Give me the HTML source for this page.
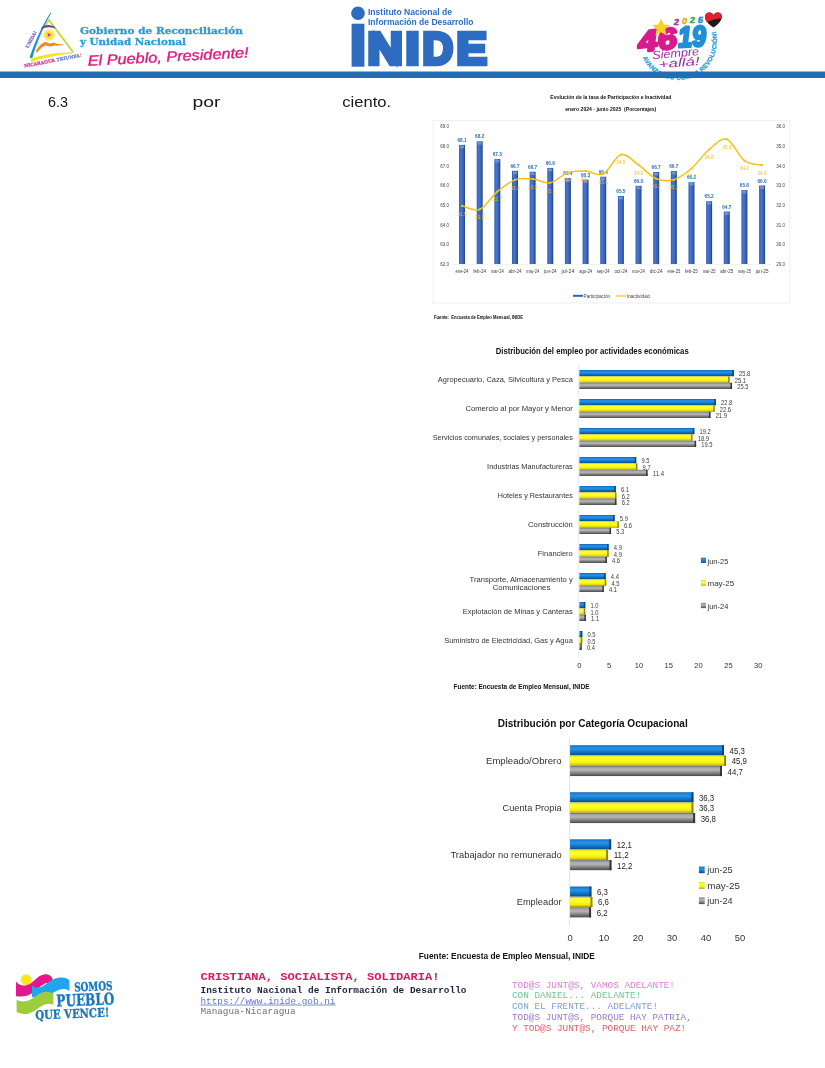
<!DOCTYPE html>
<html lang="es"><head><meta charset="utf-8"><title>INIDE - Encuesta de Empleo Mensual</title>
<style>
html,body{margin:0;padding:0;background:#fff;}
body{width:825px;height:1068px;overflow:hidden;position:relative;font-family:"Liberation Sans",sans-serif;}
svg{position:absolute;left:0;top:0;display:block;opacity:0.999;will-change:opacity;}
text{white-space:pre;}
</style></head><body>
<svg width="825" height="1068" viewBox="0 0 825 1068">
<defs>
<linearGradient id="gBlueV" x1="0" y1="0" x2="1" y2="0"><stop offset="0" stop-color="#3560b4"/><stop offset="0.35" stop-color="#4876ca"/><stop offset="0.7" stop-color="#3762b4"/><stop offset="1" stop-color="#1f3f8c"/></linearGradient>
<linearGradient id="gBlueH" x1="0" y1="0" x2="0" y2="1"><stop offset="0" stop-color="#0e5a9e"/><stop offset="0.14" stop-color="#1d84d6"/><stop offset="0.38" stop-color="#2394ea"/><stop offset="0.62" stop-color="#1478cc"/><stop offset="0.86" stop-color="#0c5ea8"/><stop offset="1" stop-color="#094680"/></linearGradient>
<linearGradient id="gYelH" x1="0" y1="0" x2="0" y2="1"><stop offset="0" stop-color="#c9c410"/><stop offset="0.14" stop-color="#fffb30"/><stop offset="0.45" stop-color="#ffff1c"/><stop offset="0.75" stop-color="#f2ea10"/><stop offset="0.9" stop-color="#d0c80c"/><stop offset="1" stop-color="#8c8608"/></linearGradient>
<linearGradient id="gGryH" x1="0" y1="0" x2="0" y2="1"><stop offset="0" stop-color="#686868"/><stop offset="0.16" stop-color="#a4a4a4"/><stop offset="0.4" stop-color="#b6b6b6"/><stop offset="0.66" stop-color="#888"/><stop offset="0.88" stop-color="#626262"/><stop offset="1" stop-color="#444"/></linearGradient>
</defs>
<g id="header">
<g id="logo-gob">
<path d="M50.6,12.6 C45,21 36,38 29.6,57.6 L32.2,58.4 C37.5,40 45.5,23 51.2,13 Z" fill="#1d8fd4"/>
<path d="M49,20 L72.8,51.8" stroke="#c3d733" stroke-width="1.8" fill="none" stroke-linecap="round"/>
<path d="M49,20 L44,27" stroke="#c3d733" stroke-width="1.3" fill="none" stroke-linecap="round"/>
<path d="M30.6,58.6 C42,54.5 58,52.6 72.6,52.2 L72.8,53.6 C58,55 43,58 31.4,62 Z" fill="#f6e12a"/>
<path d="M41.6,27.4 C45,24.6 50,24.4 54.4,26.6 L55.4,28.6 C50,26.6 45.6,27 40.8,29.4 Z" fill="#6b3c9c"/>
<circle cx="49" cy="35" r="6" fill="#fbee72" opacity="0.9"/>
<circle cx="49" cy="35" r="4" fill="#f8e036"/>
<path d="M47.4,33 L51.2,34.8 L47.6,37 Q48.6,35 47.4,33 Z" fill="#dd2a8c"/>
<path d="M35.6,51.8 C38,47 41,43.4 44.6,42.2 C47,41.6 48.2,44 50.4,43.6 C52.6,43 53.4,42.4 55.6,43.4 C58,44.4 61,44 64.8,44.6 C61,45.8 58,46 55.4,45.6 C53.4,45.2 52.4,46.4 50.2,46.6 C48,46.6 47,45 45,45.6 C42,46.8 39.6,50 36.8,52.6 Z" fill="#f0871f"/>
</g>
<text x="28.20" y="48.40" font-size="4.4" fill="#7a5fb8" text-anchor="start" font-weight="bold" font-family='"DejaVu Serif", "Liberation Serif", serif' stroke="#7a5fb8" stroke-width="0.2" transform="rotate(-62 28.2 48.4)" textLength="18.5" lengthAdjust="spacingAndGlyphs">UNIDA!</text>
<text x="24.4" y="67.6" font-size="4.5" font-weight="bold" font-family='"DejaVu Serif", "Liberation Serif", serif' transform="rotate(-10.8 24.4 67.6)" textLength="58.5" lengthAdjust="spacingAndGlyphs"><tspan fill="#d4368e" stroke="#d4368e" stroke-width="0.25">NICARAGUA </tspan><tspan fill="#6a7fc8" stroke="#6a7fc8" stroke-width="0.25">TRIUNFA</tspan><tspan fill="#d4368e">!</tspan></text>
<text x="80.00" y="34.20" font-size="9.7" fill="#2a9bd6" text-anchor="start" font-weight="bold" font-family='"DejaVu Serif", "Liberation Serif", serif' textLength="163" lengthAdjust="spacingAndGlyphs" stroke="#2a9bd6" stroke-width="0.3">Gobierno de Reconciliación</text>
<text x="80.00" y="44.60" font-size="9.7" fill="#2a9bd6" text-anchor="start" font-weight="bold" font-family='"DejaVu Serif", "Liberation Serif", serif' textLength="106" lengthAdjust="spacingAndGlyphs" stroke="#2a9bd6" stroke-width="0.3">y Unidad Nacional</text>
<text x="88.00" y="65.80" font-size="14.4" fill="#e3177d" text-anchor="start" font-weight="normal" font-family='"Liberation Sans", sans-serif' font-style="italic" textLength="161" lengthAdjust="spacingAndGlyphs" transform="rotate(-3 88 65.8)" stroke="#e3177d" stroke-width="0.35">El Pueblo, Presidente!</text>
<g id="logo-inide" fill="#2d6cc0">
<circle cx="358" cy="13.3" r="6.8"/>
<rect x="351.6" y="23.7" width="12.8" height="43"/>
</g>
<text x="368.00" y="15.40" font-size="8.8" fill="#2d6cc0" text-anchor="start" font-weight="bold" font-family='"Liberation Sans", sans-serif' textLength="84" lengthAdjust="spacingAndGlyphs">Instituto Nacional de</text>
<text x="368.00" y="24.90" font-size="8.8" fill="#2d6cc0" text-anchor="start" font-weight="bold" font-family='"Liberation Sans", sans-serif' textLength="105.5" lengthAdjust="spacingAndGlyphs">Información de Desarrollo</text>
<text x="367.40" y="64.00" font-size="45" fill="#2d6cc0" text-anchor="start" font-weight="bold" font-family='"Liberation Sans", sans-serif' textLength="35.3" lengthAdjust="spacingAndGlyphs" stroke="#2d6cc0" stroke-width="4.6" stroke-linejoin="miter" stroke-miterlimit="8">N</text>
<text x="405.40" y="64.00" font-size="45" fill="#2d6cc0" text-anchor="start" font-weight="bold" font-family='"Liberation Sans", sans-serif' textLength="14.0" lengthAdjust="spacingAndGlyphs" stroke="#2d6cc0" stroke-width="4.6" stroke-linejoin="miter" stroke-miterlimit="8">I</text>
<text x="422.50" y="64.00" font-size="45" fill="#2d6cc0" text-anchor="start" font-weight="bold" font-family='"Liberation Sans", sans-serif' textLength="30.6" lengthAdjust="spacingAndGlyphs" stroke="#2d6cc0" stroke-width="4.6" stroke-linejoin="miter" stroke-miterlimit="8">D</text>
<text x="456.60" y="64.00" font-size="45" fill="#2d6cc0" text-anchor="start" font-weight="bold" font-family='"Liberation Sans", sans-serif' textLength="30.4" lengthAdjust="spacingAndGlyphs" stroke="#2d6cc0" stroke-width="4.6" stroke-linejoin="miter" stroke-miterlimit="8">E</text>
<g id="logo-4619">
<path id="arc4619" d="M642.7,57.5 A39,39 0 0 0 715.7,30.9" fill="none"/>
<text font-size="6.1" font-weight="bold" fill="#2a9fd8" stroke="#2a9fd8" stroke-width="0.3" font-family='"Liberation Sans", sans-serif' textLength="115" lengthAdjust="spacing"><textPath href="#arc4619" startOffset="0">AVANZANDO CON LA REVOLUCIÓN!</textPath></text>
<text x="639.30" y="52.00" font-size="29.5" fill="#d81b8c" text-anchor="start" font-weight="bold" font-family='"Liberation Sans", sans-serif' font-style="italic" textLength="38.5" lengthAdjust="spacingAndGlyphs" stroke="#d81b8c" stroke-width="2.6" stroke-linejoin="round" transform="rotate(-6 639.3 52.0)">46</text>
<text x="678.60" y="47.20" font-size="29" fill="#1f8fd6" text-anchor="start" font-weight="bold" font-family='"Liberation Sans", sans-serif' font-style="italic" textLength="28" lengthAdjust="spacingAndGlyphs" stroke="#1f8fd6" stroke-width="2.6" stroke-linejoin="round" transform="rotate(-3 678.6 47.2)">19</text>
<polygon points="661,18.5 663.6,24.4 670,25 665.2,29.3 666.6,35.6 661,32.3 655.4,35.6 656.8,29.3 652,25 658.4,24.4" fill="#f8d21f"/>
<text x="674.00" y="24.60" font-size="9" fill="#a040a8" text-anchor="start" font-weight="bold" font-family='"Liberation Sans", sans-serif' font-style="italic" stroke="#a040a8" stroke-width="0.6">2</text>
<text x="682.00" y="24.00" font-size="9" fill="#e9a820" text-anchor="start" font-weight="bold" font-family='"Liberation Sans", sans-serif' font-style="italic" stroke="#e9a820" stroke-width="0.6">0</text>
<text x="690.00" y="23.40" font-size="9" fill="#3fb060" text-anchor="start" font-weight="bold" font-family='"Liberation Sans", sans-serif' font-style="italic" stroke="#3fb060" stroke-width="0.6">2</text>
<text x="698.00" y="22.80" font-size="9" fill="#1f90d0" text-anchor="start" font-weight="bold" font-family='"Liberation Sans", sans-serif' font-style="italic" stroke="#1f90d0" stroke-width="0.6">5</text>
<path d="M713.5,27.6 C704,21.5 703.2,14.6 707.8,12.8 C710.4,11.9 712.8,13.2 713.5,15.4 C714.2,13.2 716.6,11.9 719.2,12.8 C723.8,14.6 723,21.5 713.5,27.6 Z" fill="#1c1c1c"/>
<path d="M705.3,19.5 C704.3,15.8 705.6,13.5 707.8,12.8 C710.4,11.9 712.8,13.2 713.5,15.4 C714.2,13.2 716.6,11.9 719.2,12.8 C721.4,13.5 722.6,15.6 721.9,18.6 C716,18.6 710,21 706.6,22 Z" fill="#e3202b"/>
<text x="652.50" y="59.20" font-size="11.5" fill="#9b2fa0" text-anchor="start" font-weight="normal" font-family='"Liberation Sans", sans-serif' font-style="italic" textLength="47" lengthAdjust="spacingAndGlyphs" transform="rotate(-5 652.5 59.2)">Siempre</text>
<text x="659.00" y="68.40" font-size="11.5" fill="#9b2fa0" text-anchor="start" font-weight="normal" font-family='"Liberation Sans", sans-serif' font-style="italic" textLength="41" lengthAdjust="spacingAndGlyphs" transform="rotate(-5 659 68.4)">+allá!</text>
</g>
<rect x="0" y="71.5" width="825" height="6.5" fill="#1f6db6"/>
<text x="48.00" y="106.90" font-size="14.9" fill="#1a1a1a" text-anchor="start" font-weight="normal" font-family='"Liberation Sans", sans-serif' textLength="20" lengthAdjust="spacingAndGlyphs">6.3</text>
<text x="192.40" y="106.90" font-size="14.9" fill="#1a1a1a" text-anchor="start" font-weight="normal" font-family='"Liberation Sans", sans-serif' textLength="28" lengthAdjust="spacingAndGlyphs">por</text>
<text x="342.20" y="106.90" font-size="14.9" fill="#1a1a1a" text-anchor="start" font-weight="normal" font-family='"Liberation Sans", sans-serif' textLength="48.9" lengthAdjust="spacingAndGlyphs">ciento.</text>
</g>
<g id="chart1">
<text x="610.80" y="99.00" font-size="5" fill="#111" text-anchor="middle" font-weight="bold" font-family='"Liberation Sans", sans-serif' textLength="121" lengthAdjust="spacingAndGlyphs">Evolución de la tasa de Participación e Inactividad</text>
<text x="610.80" y="110.60" font-size="5" fill="#111" text-anchor="middle" font-weight="bold" font-family='"Liberation Sans", sans-serif' textLength="91" lengthAdjust="spacingAndGlyphs">enero 2024 - junio 2025  (Porcentajes)</text>
<rect x="433" y="120.7" width="356.8" height="182.3" fill="#fff" stroke="#eaeaea" stroke-width="0.8"/>
<line x1="453" y1="264.3" x2="771.3" y2="264.3" stroke="#e2e2e2" stroke-width="0.6"/>
<text x="440.20" y="266.10" font-size="4.8" fill="#444" text-anchor="start" font-weight="normal" font-family='"Liberation Sans", sans-serif' textLength="8.8" lengthAdjust="spacingAndGlyphs">62.0</text>
<text x="776.20" y="266.10" font-size="4.8" fill="#444" text-anchor="start" font-weight="normal" font-family='"Liberation Sans", sans-serif' textLength="8.8" lengthAdjust="spacingAndGlyphs">29.0</text>
<text x="440.20" y="246.40" font-size="4.8" fill="#444" text-anchor="start" font-weight="normal" font-family='"Liberation Sans", sans-serif' textLength="8.8" lengthAdjust="spacingAndGlyphs">63.0</text>
<text x="776.20" y="246.40" font-size="4.8" fill="#444" text-anchor="start" font-weight="normal" font-family='"Liberation Sans", sans-serif' textLength="8.8" lengthAdjust="spacingAndGlyphs">30.0</text>
<text x="440.20" y="226.70" font-size="4.8" fill="#444" text-anchor="start" font-weight="normal" font-family='"Liberation Sans", sans-serif' textLength="8.8" lengthAdjust="spacingAndGlyphs">64.0</text>
<text x="776.20" y="226.70" font-size="4.8" fill="#444" text-anchor="start" font-weight="normal" font-family='"Liberation Sans", sans-serif' textLength="8.8" lengthAdjust="spacingAndGlyphs">31.0</text>
<text x="440.20" y="207.00" font-size="4.8" fill="#444" text-anchor="start" font-weight="normal" font-family='"Liberation Sans", sans-serif' textLength="8.8" lengthAdjust="spacingAndGlyphs">65.0</text>
<text x="776.20" y="207.00" font-size="4.8" fill="#444" text-anchor="start" font-weight="normal" font-family='"Liberation Sans", sans-serif' textLength="8.8" lengthAdjust="spacingAndGlyphs">32.0</text>
<text x="440.20" y="187.30" font-size="4.8" fill="#444" text-anchor="start" font-weight="normal" font-family='"Liberation Sans", sans-serif' textLength="8.8" lengthAdjust="spacingAndGlyphs">66.0</text>
<text x="776.20" y="187.30" font-size="4.8" fill="#444" text-anchor="start" font-weight="normal" font-family='"Liberation Sans", sans-serif' textLength="8.8" lengthAdjust="spacingAndGlyphs">33.0</text>
<text x="440.20" y="167.60" font-size="4.8" fill="#444" text-anchor="start" font-weight="normal" font-family='"Liberation Sans", sans-serif' textLength="8.8" lengthAdjust="spacingAndGlyphs">67.0</text>
<text x="776.20" y="167.60" font-size="4.8" fill="#444" text-anchor="start" font-weight="normal" font-family='"Liberation Sans", sans-serif' textLength="8.8" lengthAdjust="spacingAndGlyphs">34.0</text>
<text x="440.20" y="147.90" font-size="4.8" fill="#444" text-anchor="start" font-weight="normal" font-family='"Liberation Sans", sans-serif' textLength="8.8" lengthAdjust="spacingAndGlyphs">68.0</text>
<text x="776.20" y="147.90" font-size="4.8" fill="#444" text-anchor="start" font-weight="normal" font-family='"Liberation Sans", sans-serif' textLength="8.8" lengthAdjust="spacingAndGlyphs">35.0</text>
<text x="440.20" y="128.20" font-size="4.8" fill="#444" text-anchor="start" font-weight="normal" font-family='"Liberation Sans", sans-serif' textLength="8.8" lengthAdjust="spacingAndGlyphs">69.0</text>
<text x="776.20" y="128.20" font-size="4.8" fill="#444" text-anchor="start" font-weight="normal" font-family='"Liberation Sans", sans-serif' textLength="8.8" lengthAdjust="spacingAndGlyphs">36.0</text>
<rect x="459.02" y="144.90" width="6.0" height="119.10" fill="url(#gBlueV)"/>
<rect x="459.92" y="145.70" width="4.2" height="2.6" fill="#7d9fe0" opacity="0.75"/>
<text x="462.02" y="141.90" font-size="4.7" fill="#256ec0" text-anchor="middle" font-weight="bold" font-family='"Liberation Sans", sans-serif' >68.1</text>
<text x="462.02" y="215.50" font-size="4.7" fill="#f0bc28" text-anchor="middle" font-weight="normal" font-family='"Liberation Sans", sans-serif' >31.9</text>
<text x="462.02" y="272.60" font-size="4.7" fill="#3a3a3a" text-anchor="middle" font-weight="normal" font-family='"Liberation Sans", sans-serif' textLength="12.8" lengthAdjust="spacingAndGlyphs">ene-24</text>
<rect x="476.68" y="141.30" width="6.0" height="122.70" fill="url(#gBlueV)"/>
<rect x="477.57" y="142.10" width="4.2" height="2.6" fill="#7d9fe0" opacity="0.75"/>
<text x="479.68" y="138.30" font-size="4.7" fill="#256ec0" text-anchor="middle" font-weight="bold" font-family='"Liberation Sans", sans-serif' >68.2</text>
<text x="479.68" y="219.10" font-size="4.7" fill="#f0bc28" text-anchor="middle" font-weight="normal" font-family='"Liberation Sans", sans-serif' >31.8</text>
<text x="479.68" y="272.60" font-size="4.7" fill="#3a3a3a" text-anchor="middle" font-weight="normal" font-family='"Liberation Sans", sans-serif' textLength="12.8" lengthAdjust="spacingAndGlyphs">feb-24</text>
<rect x="494.32" y="159.10" width="6.0" height="104.90" fill="url(#gBlueV)"/>
<rect x="495.22" y="159.90" width="4.2" height="2.6" fill="#7d9fe0" opacity="0.75"/>
<text x="497.32" y="156.10" font-size="4.7" fill="#256ec0" text-anchor="middle" font-weight="bold" font-family='"Liberation Sans", sans-serif' >67.3</text>
<text x="497.32" y="201.30" font-size="4.7" fill="#f0bc28" text-anchor="middle" font-weight="normal" font-family='"Liberation Sans", sans-serif' >32.7</text>
<text x="497.32" y="272.60" font-size="4.7" fill="#3a3a3a" text-anchor="middle" font-weight="normal" font-family='"Liberation Sans", sans-serif' textLength="12.8" lengthAdjust="spacingAndGlyphs">mar-24</text>
<rect x="511.98" y="170.80" width="6.0" height="93.20" fill="url(#gBlueV)"/>
<rect x="512.88" y="171.60" width="4.2" height="2.6" fill="#7d9fe0" opacity="0.75"/>
<text x="514.98" y="167.80" font-size="4.7" fill="#256ec0" text-anchor="middle" font-weight="bold" font-family='"Liberation Sans", sans-serif' >66.7</text>
<text x="514.98" y="189.60" font-size="4.7" fill="#f0bc28" text-anchor="middle" font-weight="normal" font-family='"Liberation Sans", sans-serif' >33.3</text>
<text x="514.98" y="272.60" font-size="4.7" fill="#3a3a3a" text-anchor="middle" font-weight="normal" font-family='"Liberation Sans", sans-serif' textLength="12.8" lengthAdjust="spacingAndGlyphs">abr-24</text>
<rect x="529.62" y="171.70" width="6.0" height="92.30" fill="url(#gBlueV)"/>
<rect x="530.52" y="172.50" width="4.2" height="2.6" fill="#7d9fe0" opacity="0.75"/>
<text x="532.62" y="168.70" font-size="4.7" fill="#256ec0" text-anchor="middle" font-weight="bold" font-family='"Liberation Sans", sans-serif' >66.7</text>
<text x="532.62" y="188.70" font-size="4.7" fill="#f0bc28" text-anchor="middle" font-weight="normal" font-family='"Liberation Sans", sans-serif' >33.3</text>
<text x="532.62" y="272.60" font-size="4.7" fill="#3a3a3a" text-anchor="middle" font-weight="normal" font-family='"Liberation Sans", sans-serif' textLength="12.8" lengthAdjust="spacingAndGlyphs">may-24</text>
<rect x="547.27" y="167.90" width="6.0" height="96.10" fill="url(#gBlueV)"/>
<rect x="548.17" y="168.70" width="4.2" height="2.6" fill="#7d9fe0" opacity="0.75"/>
<text x="550.27" y="164.90" font-size="4.7" fill="#256ec0" text-anchor="middle" font-weight="bold" font-family='"Liberation Sans", sans-serif' >66.9</text>
<text x="550.27" y="192.50" font-size="4.7" fill="#f0bc28" text-anchor="middle" font-weight="normal" font-family='"Liberation Sans", sans-serif' >33.1</text>
<text x="550.27" y="272.60" font-size="4.7" fill="#3a3a3a" text-anchor="middle" font-weight="normal" font-family='"Liberation Sans", sans-serif' textLength="12.8" lengthAdjust="spacingAndGlyphs">jun-24</text>
<rect x="564.92" y="178.10" width="6.0" height="85.90" fill="url(#gBlueV)"/>
<rect x="565.82" y="178.90" width="4.2" height="2.6" fill="#7d9fe0" opacity="0.75"/>
<text x="567.92" y="175.10" font-size="4.7" fill="#256ec0" text-anchor="middle" font-weight="bold" font-family='"Liberation Sans", sans-serif' >66.4</text>
<text x="567.92" y="182.30" font-size="4.7" fill="#f0bc28" text-anchor="middle" font-weight="normal" font-family='"Liberation Sans", sans-serif' >33.6</text>
<text x="567.92" y="272.60" font-size="4.7" fill="#3a3a3a" text-anchor="middle" font-weight="normal" font-family='"Liberation Sans", sans-serif' textLength="12.8" lengthAdjust="spacingAndGlyphs">jul-24</text>
<rect x="582.58" y="179.60" width="6.0" height="84.40" fill="url(#gBlueV)"/>
<rect x="583.48" y="180.40" width="4.2" height="2.6" fill="#7d9fe0" opacity="0.75"/>
<text x="585.58" y="176.60" font-size="4.7" fill="#256ec0" text-anchor="middle" font-weight="bold" font-family='"Liberation Sans", sans-serif' >66.3</text>
<text x="585.58" y="180.80" font-size="4.7" fill="#f0bc28" text-anchor="middle" font-weight="normal" font-family='"Liberation Sans", sans-serif' >33.7</text>
<text x="585.58" y="272.60" font-size="4.7" fill="#3a3a3a" text-anchor="middle" font-weight="normal" font-family='"Liberation Sans", sans-serif' textLength="12.8" lengthAdjust="spacingAndGlyphs">ago-24</text>
<rect x="600.22" y="176.70" width="6.0" height="87.30" fill="url(#gBlueV)"/>
<rect x="601.12" y="177.50" width="4.2" height="2.6" fill="#7d9fe0" opacity="0.75"/>
<text x="603.22" y="173.70" font-size="4.7" fill="#256ec0" text-anchor="middle" font-weight="bold" font-family='"Liberation Sans", sans-serif' >66.4</text>
<text x="603.22" y="183.70" font-size="4.7" fill="#f0bc28" text-anchor="middle" font-weight="normal" font-family='"Liberation Sans", sans-serif' >33.6</text>
<text x="603.22" y="272.60" font-size="4.7" fill="#3a3a3a" text-anchor="middle" font-weight="normal" font-family='"Liberation Sans", sans-serif' textLength="12.8" lengthAdjust="spacingAndGlyphs">sep-24</text>
<rect x="617.88" y="196.00" width="6.0" height="68.00" fill="url(#gBlueV)"/>
<rect x="618.77" y="196.80" width="4.2" height="2.6" fill="#7d9fe0" opacity="0.75"/>
<text x="620.88" y="193.00" font-size="4.7" fill="#256ec0" text-anchor="middle" font-weight="bold" font-family='"Liberation Sans", sans-serif' >65.5</text>
<text x="620.88" y="164.40" font-size="4.7" fill="#f0bc28" text-anchor="middle" font-weight="normal" font-family='"Liberation Sans", sans-serif' >34.5</text>
<text x="620.88" y="272.60" font-size="4.7" fill="#3a3a3a" text-anchor="middle" font-weight="normal" font-family='"Liberation Sans", sans-serif' textLength="12.8" lengthAdjust="spacingAndGlyphs">oct-24</text>
<rect x="635.52" y="185.80" width="6.0" height="78.20" fill="url(#gBlueV)"/>
<rect x="636.42" y="186.60" width="4.2" height="2.6" fill="#7d9fe0" opacity="0.75"/>
<text x="638.52" y="182.80" font-size="4.7" fill="#256ec0" text-anchor="middle" font-weight="bold" font-family='"Liberation Sans", sans-serif' >66.0</text>
<text x="638.52" y="174.60" font-size="4.7" fill="#f0bc28" text-anchor="middle" font-weight="normal" font-family='"Liberation Sans", sans-serif' >34.0</text>
<text x="638.52" y="272.60" font-size="4.7" fill="#3a3a3a" text-anchor="middle" font-weight="normal" font-family='"Liberation Sans", sans-serif' textLength="12.8" lengthAdjust="spacingAndGlyphs">nov-24</text>
<rect x="653.17" y="172.00" width="6.0" height="92.00" fill="url(#gBlueV)"/>
<rect x="654.07" y="172.80" width="4.2" height="2.6" fill="#7d9fe0" opacity="0.75"/>
<text x="656.17" y="169.00" font-size="4.7" fill="#256ec0" text-anchor="middle" font-weight="bold" font-family='"Liberation Sans", sans-serif' >66.7</text>
<text x="656.17" y="188.40" font-size="4.7" fill="#f0bc28" text-anchor="middle" font-weight="normal" font-family='"Liberation Sans", sans-serif' >33.3</text>
<text x="656.17" y="272.60" font-size="4.7" fill="#3a3a3a" text-anchor="middle" font-weight="normal" font-family='"Liberation Sans", sans-serif' textLength="12.8" lengthAdjust="spacingAndGlyphs">dic-24</text>
<rect x="670.82" y="171.00" width="6.0" height="93.00" fill="url(#gBlueV)"/>
<rect x="671.72" y="171.80" width="4.2" height="2.6" fill="#7d9fe0" opacity="0.75"/>
<text x="673.82" y="168.00" font-size="4.7" fill="#256ec0" text-anchor="middle" font-weight="bold" font-family='"Liberation Sans", sans-serif' >66.7</text>
<text x="673.82" y="189.40" font-size="4.7" fill="#f0bc28" text-anchor="middle" font-weight="normal" font-family='"Liberation Sans", sans-serif' >33.3</text>
<text x="673.82" y="272.60" font-size="4.7" fill="#3a3a3a" text-anchor="middle" font-weight="normal" font-family='"Liberation Sans", sans-serif' textLength="12.8" lengthAdjust="spacingAndGlyphs">ene-25</text>
<rect x="688.47" y="182.20" width="6.0" height="81.80" fill="url(#gBlueV)"/>
<rect x="689.37" y="183.00" width="4.2" height="2.6" fill="#7d9fe0" opacity="0.75"/>
<text x="691.47" y="179.20" font-size="4.7" fill="#256ec0" text-anchor="middle" font-weight="bold" font-family='"Liberation Sans", sans-serif' >66.2</text>
<text x="691.47" y="178.20" font-size="4.7" fill="#f0bc28" text-anchor="middle" font-weight="normal" font-family='"Liberation Sans", sans-serif' >33.8</text>
<text x="691.47" y="272.60" font-size="4.7" fill="#3a3a3a" text-anchor="middle" font-weight="normal" font-family='"Liberation Sans", sans-serif' textLength="12.8" lengthAdjust="spacingAndGlyphs">feb-25</text>
<rect x="706.12" y="201.20" width="6.0" height="62.80" fill="url(#gBlueV)"/>
<rect x="707.02" y="202.00" width="4.2" height="2.6" fill="#7d9fe0" opacity="0.75"/>
<text x="709.12" y="198.20" font-size="4.7" fill="#256ec0" text-anchor="middle" font-weight="bold" font-family='"Liberation Sans", sans-serif' >65.2</text>
<text x="709.12" y="159.20" font-size="4.7" fill="#f0bc28" text-anchor="middle" font-weight="normal" font-family='"Liberation Sans", sans-serif' >34.8</text>
<text x="709.12" y="272.60" font-size="4.7" fill="#3a3a3a" text-anchor="middle" font-weight="normal" font-family='"Liberation Sans", sans-serif' textLength="12.8" lengthAdjust="spacingAndGlyphs">mar-25</text>
<rect x="723.77" y="211.50" width="6.0" height="52.50" fill="url(#gBlueV)"/>
<rect x="724.67" y="212.30" width="4.2" height="2.6" fill="#7d9fe0" opacity="0.75"/>
<text x="726.77" y="208.50" font-size="4.7" fill="#256ec0" text-anchor="middle" font-weight="bold" font-family='"Liberation Sans", sans-serif' >64.7</text>
<text x="726.77" y="148.90" font-size="4.7" fill="#f0bc28" text-anchor="middle" font-weight="normal" font-family='"Liberation Sans", sans-serif' >35.3</text>
<text x="726.77" y="272.60" font-size="4.7" fill="#3a3a3a" text-anchor="middle" font-weight="normal" font-family='"Liberation Sans", sans-serif' textLength="12.8" lengthAdjust="spacingAndGlyphs">abr-25</text>
<rect x="741.42" y="190.10" width="6.0" height="73.90" fill="url(#gBlueV)"/>
<rect x="742.32" y="190.90" width="4.2" height="2.6" fill="#7d9fe0" opacity="0.75"/>
<text x="744.42" y="187.10" font-size="4.7" fill="#256ec0" text-anchor="middle" font-weight="bold" font-family='"Liberation Sans", sans-serif' >65.8</text>
<text x="744.42" y="170.30" font-size="4.7" fill="#f0bc28" text-anchor="middle" font-weight="normal" font-family='"Liberation Sans", sans-serif' >34.2</text>
<text x="744.42" y="272.60" font-size="4.7" fill="#3a3a3a" text-anchor="middle" font-weight="normal" font-family='"Liberation Sans", sans-serif' textLength="12.8" lengthAdjust="spacingAndGlyphs">may-25</text>
<rect x="759.08" y="185.50" width="6.0" height="78.50" fill="url(#gBlueV)"/>
<rect x="759.98" y="186.30" width="4.2" height="2.6" fill="#7d9fe0" opacity="0.75"/>
<text x="762.08" y="182.50" font-size="4.7" fill="#256ec0" text-anchor="middle" font-weight="bold" font-family='"Liberation Sans", sans-serif' >66.0</text>
<text x="762.08" y="174.90" font-size="4.7" fill="#f0bc28" text-anchor="middle" font-weight="normal" font-family='"Liberation Sans", sans-serif' >34.0</text>
<text x="762.08" y="272.60" font-size="4.7" fill="#3a3a3a" text-anchor="middle" font-weight="normal" font-family='"Liberation Sans", sans-serif' textLength="12.8" lengthAdjust="spacingAndGlyphs">jun-25</text>
<path d="M462.02,205.80 C464.97,206.40 473.79,211.77 479.68,209.40 C485.56,207.03 491.44,196.52 497.32,191.60 C503.21,186.68 509.09,182.00 514.98,179.90 C520.86,177.80 526.74,178.52 532.62,179.00 C538.51,179.48 544.39,183.87 550.27,182.80 C556.16,181.73 562.04,174.55 567.92,172.60 C573.81,170.65 579.69,170.87 585.58,171.10 C591.46,171.33 597.34,176.73 603.22,174.00 C609.11,171.27 614.99,156.22 620.88,154.70 C626.76,153.18 632.64,160.90 638.52,164.90 C644.41,168.90 650.29,176.23 656.17,178.70 C662.06,181.17 667.94,181.40 673.82,179.70 C679.71,178.00 685.59,173.53 691.47,168.50 C697.36,163.47 703.24,154.38 709.12,149.50 C715.01,144.62 720.89,137.35 726.77,139.20 C732.66,141.05 738.54,156.27 744.42,160.60 C750.31,164.93 759.13,164.43 762.08,165.20" fill="none" stroke="#f5c211" stroke-width="1.5" stroke-linejoin="round" stroke-linecap="round"/>
<circle cx="462.02" cy="205.80" r="1.1" fill="#f5c211"/>
<circle cx="479.68" cy="209.40" r="1.1" fill="#f5c211"/>
<circle cx="497.32" cy="191.60" r="1.1" fill="#f5c211"/>
<circle cx="514.98" cy="179.90" r="1.1" fill="#f5c211"/>
<circle cx="532.62" cy="179.00" r="1.1" fill="#f5c211"/>
<circle cx="550.27" cy="182.80" r="1.1" fill="#f5c211"/>
<circle cx="567.92" cy="172.60" r="1.1" fill="#f5c211"/>
<circle cx="585.58" cy="171.10" r="1.1" fill="#f5c211"/>
<circle cx="603.22" cy="174.00" r="1.1" fill="#f5c211"/>
<circle cx="620.88" cy="154.70" r="1.1" fill="#f5c211"/>
<circle cx="638.52" cy="164.90" r="1.1" fill="#f5c211"/>
<circle cx="656.17" cy="178.70" r="1.1" fill="#f5c211"/>
<circle cx="673.82" cy="179.70" r="1.1" fill="#f5c211"/>
<circle cx="691.47" cy="168.50" r="1.1" fill="#f5c211"/>
<circle cx="709.12" cy="149.50" r="1.1" fill="#f5c211"/>
<circle cx="726.77" cy="139.20" r="1.1" fill="#f5c211"/>
<circle cx="744.42" cy="160.60" r="1.1" fill="#f5c211"/>
<circle cx="762.08" cy="165.20" r="1.1" fill="#f5c211"/>
<rect x="573" y="294.8" width="10" height="2" fill="#3462b4"/>
<text x="583.60" y="297.60" font-size="4.6" fill="#444" text-anchor="start" font-weight="normal" font-family='"Liberation Sans", sans-serif' textLength="26.5" lengthAdjust="spacingAndGlyphs">Participación</text>
<rect x="616" y="295.4" width="10" height="1.2" fill="#f5c211"/>
<text x="626.60" y="297.60" font-size="4.6" fill="#444" text-anchor="start" font-weight="normal" font-family='"Liberation Sans", sans-serif' textLength="23" lengthAdjust="spacingAndGlyphs">Inactividad</text>
<text x="434.00" y="319.20" font-size="4.6" fill="#111" text-anchor="start" font-weight="bold" font-family='"Liberation Sans", sans-serif' textLength="89" lengthAdjust="spacingAndGlyphs">Fuente:  Encuesta de Empleo Mensual, INIDE</text>
</g>
<g id="chart2">
<text x="592.20" y="354.00" font-size="8.3" fill="#111" text-anchor="middle" font-weight="bold" font-family='"Liberation Sans", sans-serif' textLength="193" lengthAdjust="spacingAndGlyphs">Distribución del empleo por actividades económicas</text>
<rect x="579.30" y="370.00" width="154.54" height="6.20" fill="url(#gBlueH)"/><rect x="732.34" y="370.00" width="1.50" height="6.20" fill="#083a6c" opacity="0.85"/>
<text x="739.04" y="376.20" font-size="7.2" fill="#3a3a3a" text-anchor="start" font-weight="normal" font-family='"Liberation Sans", sans-serif' textLength="11.2" lengthAdjust="spacingAndGlyphs">25.8</text>
<rect x="579.30" y="376.40" width="150.35" height="6.20" fill="url(#gYelH)"/><rect x="728.15" y="376.40" width="1.50" height="6.20" fill="#7a7400" opacity="0.85"/>
<text x="734.85" y="382.60" font-size="7.2" fill="#3a3a3a" text-anchor="start" font-weight="normal" font-family='"Liberation Sans", sans-serif' textLength="11.2" lengthAdjust="spacingAndGlyphs">25.1</text>
<rect x="579.30" y="382.80" width="152.75" height="6.20" fill="url(#gGryH)"/><rect x="730.54" y="382.80" width="1.50" height="6.20" fill="#262626" opacity="0.85"/>
<text x="737.25" y="389.00" font-size="7.2" fill="#3a3a3a" text-anchor="start" font-weight="normal" font-family='"Liberation Sans", sans-serif' textLength="11.2" lengthAdjust="spacingAndGlyphs">25.5</text>
<text x="572.80" y="381.90" font-size="7.3" fill="#333" text-anchor="end" font-weight="normal" font-family='"Liberation Sans", sans-serif' textLength="135.0" lengthAdjust="spacingAndGlyphs">Agropecuario, Caza, Silvicultura y Pesca</text>
<rect x="579.30" y="399.00" width="136.57" height="6.20" fill="url(#gBlueH)"/><rect x="714.37" y="399.00" width="1.50" height="6.20" fill="#083a6c" opacity="0.85"/>
<text x="721.07" y="405.20" font-size="7.2" fill="#3a3a3a" text-anchor="start" font-weight="normal" font-family='"Liberation Sans", sans-serif' textLength="11.2" lengthAdjust="spacingAndGlyphs">22.8</text>
<rect x="579.30" y="405.40" width="135.37" height="6.20" fill="url(#gYelH)"/><rect x="713.17" y="405.40" width="1.50" height="6.20" fill="#7a7400" opacity="0.85"/>
<text x="719.87" y="411.60" font-size="7.2" fill="#3a3a3a" text-anchor="start" font-weight="normal" font-family='"Liberation Sans", sans-serif' textLength="11.2" lengthAdjust="spacingAndGlyphs">22.6</text>
<rect x="579.30" y="411.80" width="131.18" height="6.20" fill="url(#gGryH)"/><rect x="708.98" y="411.80" width="1.50" height="6.20" fill="#262626" opacity="0.85"/>
<text x="715.68" y="418.00" font-size="7.2" fill="#3a3a3a" text-anchor="start" font-weight="normal" font-family='"Liberation Sans", sans-serif' textLength="11.2" lengthAdjust="spacingAndGlyphs">21.9</text>
<text x="572.80" y="410.90" font-size="7.3" fill="#333" text-anchor="end" font-weight="normal" font-family='"Liberation Sans", sans-serif' textLength="107.4" lengthAdjust="spacingAndGlyphs">Comercio al por Mayor y Menor</text>
<rect x="579.30" y="428.00" width="115.01" height="6.20" fill="url(#gBlueH)"/><rect x="692.81" y="428.00" width="1.50" height="6.20" fill="#083a6c" opacity="0.85"/>
<text x="699.51" y="434.20" font-size="7.2" fill="#3a3a3a" text-anchor="start" font-weight="normal" font-family='"Liberation Sans", sans-serif' textLength="11.2" lengthAdjust="spacingAndGlyphs">19.2</text>
<rect x="579.30" y="434.40" width="113.21" height="6.20" fill="url(#gYelH)"/><rect x="691.01" y="434.40" width="1.50" height="6.20" fill="#7a7400" opacity="0.85"/>
<text x="697.71" y="440.60" font-size="7.2" fill="#3a3a3a" text-anchor="start" font-weight="normal" font-family='"Liberation Sans", sans-serif' textLength="11.2" lengthAdjust="spacingAndGlyphs">18.9</text>
<rect x="579.30" y="440.80" width="116.81" height="6.20" fill="url(#gGryH)"/><rect x="694.61" y="440.80" width="1.50" height="6.20" fill="#262626" opacity="0.85"/>
<text x="701.31" y="447.00" font-size="7.2" fill="#3a3a3a" text-anchor="start" font-weight="normal" font-family='"Liberation Sans", sans-serif' textLength="11.2" lengthAdjust="spacingAndGlyphs">19.5</text>
<text x="572.80" y="439.90" font-size="7.3" fill="#333" text-anchor="end" font-weight="normal" font-family='"Liberation Sans", sans-serif' textLength="140.1" lengthAdjust="spacingAndGlyphs">Servicios comunales, sociales y personales</text>
<rect x="579.30" y="457.00" width="56.91" height="6.20" fill="url(#gBlueH)"/><rect x="634.70" y="457.00" width="1.50" height="6.20" fill="#083a6c" opacity="0.85"/>
<text x="641.40" y="463.20" font-size="7.2" fill="#3a3a3a" text-anchor="start" font-weight="normal" font-family='"Liberation Sans", sans-serif' textLength="8.0" lengthAdjust="spacingAndGlyphs">9.5</text>
<rect x="579.30" y="463.40" width="58.10" height="6.20" fill="url(#gYelH)"/><rect x="635.90" y="463.40" width="1.50" height="6.20" fill="#7a7400" opacity="0.85"/>
<text x="642.60" y="469.60" font-size="7.2" fill="#3a3a3a" text-anchor="start" font-weight="normal" font-family='"Liberation Sans", sans-serif' textLength="8.0" lengthAdjust="spacingAndGlyphs">9.7</text>
<rect x="579.30" y="469.80" width="68.29" height="6.20" fill="url(#gGryH)"/><rect x="646.09" y="469.80" width="1.50" height="6.20" fill="#262626" opacity="0.85"/>
<text x="652.79" y="476.00" font-size="7.2" fill="#3a3a3a" text-anchor="start" font-weight="normal" font-family='"Liberation Sans", sans-serif' textLength="11.2" lengthAdjust="spacingAndGlyphs">11.4</text>
<text x="572.80" y="468.90" font-size="7.3" fill="#333" text-anchor="end" font-weight="normal" font-family='"Liberation Sans", sans-serif' textLength="85.7" lengthAdjust="spacingAndGlyphs">Industrias Manufactureras</text>
<rect x="579.30" y="486.00" width="36.54" height="6.20" fill="url(#gBlueH)"/><rect x="614.34" y="486.00" width="1.50" height="6.20" fill="#083a6c" opacity="0.85"/>
<text x="621.04" y="492.20" font-size="7.2" fill="#3a3a3a" text-anchor="start" font-weight="normal" font-family='"Liberation Sans", sans-serif' textLength="8.0" lengthAdjust="spacingAndGlyphs">6.1</text>
<rect x="579.30" y="492.40" width="37.14" height="6.20" fill="url(#gYelH)"/><rect x="614.94" y="492.40" width="1.50" height="6.20" fill="#7a7400" opacity="0.85"/>
<text x="621.64" y="498.60" font-size="7.2" fill="#3a3a3a" text-anchor="start" font-weight="normal" font-family='"Liberation Sans", sans-serif' textLength="8.0" lengthAdjust="spacingAndGlyphs">6.2</text>
<rect x="579.30" y="498.80" width="37.14" height="6.20" fill="url(#gGryH)"/><rect x="614.94" y="498.80" width="1.50" height="6.20" fill="#262626" opacity="0.85"/>
<text x="621.64" y="505.00" font-size="7.2" fill="#3a3a3a" text-anchor="start" font-weight="normal" font-family='"Liberation Sans", sans-serif' textLength="8.0" lengthAdjust="spacingAndGlyphs">6.2</text>
<text x="572.80" y="497.90" font-size="7.3" fill="#333" text-anchor="end" font-weight="normal" font-family='"Liberation Sans", sans-serif' textLength="75.1" lengthAdjust="spacingAndGlyphs">Hoteles y Restaurantes</text>
<rect x="579.30" y="515.00" width="35.34" height="6.20" fill="url(#gBlueH)"/><rect x="613.14" y="515.00" width="1.50" height="6.20" fill="#083a6c" opacity="0.85"/>
<text x="619.84" y="521.20" font-size="7.2" fill="#3a3a3a" text-anchor="start" font-weight="normal" font-family='"Liberation Sans", sans-serif' textLength="8.0" lengthAdjust="spacingAndGlyphs">5.9</text>
<rect x="579.30" y="521.40" width="39.53" height="6.20" fill="url(#gYelH)"/><rect x="617.33" y="521.40" width="1.50" height="6.20" fill="#7a7400" opacity="0.85"/>
<text x="624.03" y="527.60" font-size="7.2" fill="#3a3a3a" text-anchor="start" font-weight="normal" font-family='"Liberation Sans", sans-serif' textLength="8.0" lengthAdjust="spacingAndGlyphs">6.6</text>
<rect x="579.30" y="527.80" width="31.75" height="6.20" fill="url(#gGryH)"/><rect x="609.55" y="527.80" width="1.50" height="6.20" fill="#262626" opacity="0.85"/>
<text x="616.25" y="534.00" font-size="7.2" fill="#3a3a3a" text-anchor="start" font-weight="normal" font-family='"Liberation Sans", sans-serif' textLength="8.0" lengthAdjust="spacingAndGlyphs">5.3</text>
<text x="572.80" y="526.90" font-size="7.3" fill="#333" text-anchor="end" font-weight="normal" font-family='"Liberation Sans", sans-serif' textLength="44.7" lengthAdjust="spacingAndGlyphs">Construcción</text>
<rect x="579.30" y="544.00" width="29.35" height="6.20" fill="url(#gBlueH)"/><rect x="607.15" y="544.00" width="1.50" height="6.20" fill="#083a6c" opacity="0.85"/>
<text x="613.85" y="550.20" font-size="7.2" fill="#3a3a3a" text-anchor="start" font-weight="normal" font-family='"Liberation Sans", sans-serif' textLength="8.0" lengthAdjust="spacingAndGlyphs">4.9</text>
<rect x="579.30" y="550.40" width="29.35" height="6.20" fill="url(#gYelH)"/><rect x="607.15" y="550.40" width="1.50" height="6.20" fill="#7a7400" opacity="0.85"/>
<text x="613.85" y="556.60" font-size="7.2" fill="#3a3a3a" text-anchor="start" font-weight="normal" font-family='"Liberation Sans", sans-serif' textLength="8.0" lengthAdjust="spacingAndGlyphs">4.9</text>
<rect x="579.30" y="556.80" width="27.55" height="6.20" fill="url(#gGryH)"/><rect x="605.35" y="556.80" width="1.50" height="6.20" fill="#262626" opacity="0.85"/>
<text x="612.05" y="563.00" font-size="7.2" fill="#3a3a3a" text-anchor="start" font-weight="normal" font-family='"Liberation Sans", sans-serif' textLength="8.0" lengthAdjust="spacingAndGlyphs">4.6</text>
<text x="572.80" y="555.90" font-size="7.3" fill="#333" text-anchor="end" font-weight="normal" font-family='"Liberation Sans", sans-serif' textLength="35.0" lengthAdjust="spacingAndGlyphs">Financiero</text>
<rect x="579.30" y="573.00" width="26.36" height="6.20" fill="url(#gBlueH)"/><rect x="604.16" y="573.00" width="1.50" height="6.20" fill="#083a6c" opacity="0.85"/>
<text x="610.86" y="579.20" font-size="7.2" fill="#3a3a3a" text-anchor="start" font-weight="normal" font-family='"Liberation Sans", sans-serif' textLength="8.0" lengthAdjust="spacingAndGlyphs">4.4</text>
<rect x="579.30" y="579.40" width="26.96" height="6.20" fill="url(#gYelH)"/><rect x="604.75" y="579.40" width="1.50" height="6.20" fill="#7a7400" opacity="0.85"/>
<text x="611.46" y="585.60" font-size="7.2" fill="#3a3a3a" text-anchor="start" font-weight="normal" font-family='"Liberation Sans", sans-serif' textLength="8.0" lengthAdjust="spacingAndGlyphs">4.5</text>
<rect x="579.30" y="585.80" width="24.56" height="6.20" fill="url(#gGryH)"/><rect x="602.36" y="585.80" width="1.50" height="6.20" fill="#262626" opacity="0.85"/>
<text x="609.06" y="592.00" font-size="7.2" fill="#3a3a3a" text-anchor="start" font-weight="normal" font-family='"Liberation Sans", sans-serif' textLength="8.0" lengthAdjust="spacingAndGlyphs">4.1</text>
<text x="572.80" y="581.60" font-size="7.3" fill="#333" text-anchor="end" font-weight="normal" font-family='"Liberation Sans", sans-serif' textLength="103.2" lengthAdjust="spacingAndGlyphs">Transporte, Almacenamiento y</text>
<text x="521.50" y="590.00" font-size="7.3" fill="#333" text-anchor="middle" font-weight="normal" font-family='"Liberation Sans", sans-serif' textLength="57.6" lengthAdjust="spacingAndGlyphs">Comunicaciones</text>
<rect x="579.30" y="602.00" width="5.99" height="6.20" fill="url(#gBlueH)"/><rect x="583.79" y="602.00" width="1.50" height="6.20" fill="#083a6c" opacity="0.85"/>
<text x="590.49" y="608.20" font-size="7.2" fill="#3a3a3a" text-anchor="start" font-weight="normal" font-family='"Liberation Sans", sans-serif' textLength="8.0" lengthAdjust="spacingAndGlyphs">1.0</text>
<rect x="579.30" y="608.40" width="5.99" height="6.20" fill="url(#gYelH)"/><rect x="583.79" y="608.40" width="1.50" height="6.20" fill="#7a7400" opacity="0.85"/>
<text x="590.49" y="614.60" font-size="7.2" fill="#3a3a3a" text-anchor="start" font-weight="normal" font-family='"Liberation Sans", sans-serif' textLength="8.0" lengthAdjust="spacingAndGlyphs">1.0</text>
<rect x="579.30" y="614.80" width="6.59" height="6.20" fill="url(#gGryH)"/><rect x="584.39" y="614.80" width="1.50" height="6.20" fill="#262626" opacity="0.85"/>
<text x="591.09" y="621.00" font-size="7.2" fill="#3a3a3a" text-anchor="start" font-weight="normal" font-family='"Liberation Sans", sans-serif' textLength="8.0" lengthAdjust="spacingAndGlyphs">1.1</text>
<text x="572.80" y="613.90" font-size="7.3" fill="#333" text-anchor="end" font-weight="normal" font-family='"Liberation Sans", sans-serif' textLength="110.1" lengthAdjust="spacingAndGlyphs">Explotación de Minas y Canteras</text>
<rect x="579.30" y="631.00" width="3.00" height="6.20" fill="url(#gBlueH)"/><rect x="580.80" y="631.00" width="1.50" height="6.20" fill="#083a6c" opacity="0.85"/>
<text x="587.50" y="637.20" font-size="7.2" fill="#3a3a3a" text-anchor="start" font-weight="normal" font-family='"Liberation Sans", sans-serif' textLength="8.0" lengthAdjust="spacingAndGlyphs">0.5</text>
<rect x="579.30" y="637.40" width="3.00" height="6.20" fill="url(#gYelH)"/><rect x="580.80" y="637.40" width="1.50" height="6.20" fill="#7a7400" opacity="0.85"/>
<text x="587.50" y="643.60" font-size="7.2" fill="#3a3a3a" text-anchor="start" font-weight="normal" font-family='"Liberation Sans", sans-serif' textLength="8.0" lengthAdjust="spacingAndGlyphs">0.5</text>
<rect x="579.30" y="643.80" width="2.40" height="6.20" fill="url(#gGryH)"/><rect x="580.50" y="643.80" width="1.20" height="6.20" fill="#262626" opacity="0.85"/>
<text x="586.90" y="650.00" font-size="7.2" fill="#3a3a3a" text-anchor="start" font-weight="normal" font-family='"Liberation Sans", sans-serif' textLength="8.0" lengthAdjust="spacingAndGlyphs">0.4</text>
<text x="572.80" y="642.90" font-size="7.3" fill="#333" text-anchor="end" font-weight="normal" font-family='"Liberation Sans", sans-serif' textLength="128.6" lengthAdjust="spacingAndGlyphs">Suministro de Electricidad, Gas y Agua</text>
<line x1="578.7" y1="364" x2="578.7" y2="656" stroke="#e4e4e4" stroke-width="0.8"/>
<text x="579.40" y="668.20" font-size="7.6" fill="#333" text-anchor="middle" font-weight="normal" font-family='"Liberation Sans", sans-serif' >0</text>
<text x="609.20" y="668.20" font-size="7.6" fill="#333" text-anchor="middle" font-weight="normal" font-family='"Liberation Sans", sans-serif' >5</text>
<text x="639.00" y="668.20" font-size="7.6" fill="#333" text-anchor="middle" font-weight="normal" font-family='"Liberation Sans", sans-serif' >10</text>
<text x="668.80" y="668.20" font-size="7.6" fill="#333" text-anchor="middle" font-weight="normal" font-family='"Liberation Sans", sans-serif' >15</text>
<text x="698.60" y="668.20" font-size="7.6" fill="#333" text-anchor="middle" font-weight="normal" font-family='"Liberation Sans", sans-serif' >20</text>
<text x="728.40" y="668.20" font-size="7.6" fill="#333" text-anchor="middle" font-weight="normal" font-family='"Liberation Sans", sans-serif' >25</text>
<text x="758.20" y="668.20" font-size="7.6" fill="#333" text-anchor="middle" font-weight="normal" font-family='"Liberation Sans", sans-serif' >30</text>
<rect x="700.9" y="557.7" width="5.1" height="5.2" fill="url(#gBlueH)"/>
<text x="707.50" y="563.80" font-size="7.8" fill="#333" text-anchor="start" font-weight="normal" font-family='"Liberation Sans", sans-serif' textLength="20.8" lengthAdjust="spacingAndGlyphs">jun-25</text>
<rect x="700.9" y="580.3" width="5.1" height="5.2" fill="url(#gYelH)"/>
<text x="707.50" y="586.40" font-size="7.8" fill="#333" text-anchor="start" font-weight="normal" font-family='"Liberation Sans", sans-serif' textLength="26.6" lengthAdjust="spacingAndGlyphs">may-25</text>
<rect x="700.9" y="602.9" width="5.1" height="5.2" fill="url(#gGryH)"/>
<text x="707.50" y="609.00" font-size="7.8" fill="#333" text-anchor="start" font-weight="normal" font-family='"Liberation Sans", sans-serif' textLength="20.8" lengthAdjust="spacingAndGlyphs">jun-24</text>
<text x="453.60" y="689.30" font-size="6.6" fill="#111" text-anchor="start" font-weight="bold" font-family='"Liberation Sans", sans-serif' textLength="136" lengthAdjust="spacingAndGlyphs">Fuente: Encuesta de Empleo Mensual, INIDE</text>
</g>
<g id="chart3">
<text x="592.70" y="726.60" font-size="10" fill="#111" text-anchor="middle" font-weight="bold" font-family='"Liberation Sans", sans-serif' textLength="190" lengthAdjust="spacingAndGlyphs">Distribución por Categoría Ocupacional</text>
<rect x="570.00" y="745.25" width="154.02" height="10.07" fill="url(#gBlueH)"/><rect x="722.02" y="745.25" width="2.00" height="10.07" fill="#083a6c" opacity="0.85"/>
<text x="729.62" y="753.82" font-size="8.9" fill="#222" text-anchor="start" font-weight="normal" font-family='"Liberation Sans", sans-serif' textLength="15.2" lengthAdjust="spacingAndGlyphs">45,3</text>
<rect x="570.00" y="755.62" width="156.06" height="10.07" fill="url(#gYelH)"/><rect x="724.06" y="755.62" width="2.00" height="10.07" fill="#7a7400" opacity="0.85"/>
<text x="731.66" y="764.19" font-size="8.9" fill="#222" text-anchor="start" font-weight="normal" font-family='"Liberation Sans", sans-serif' textLength="15.2" lengthAdjust="spacingAndGlyphs">45,9</text>
<rect x="570.00" y="765.99" width="151.98" height="10.07" fill="url(#gGryH)"/><rect x="719.98" y="765.99" width="2.00" height="10.07" fill="#262626" opacity="0.85"/>
<text x="727.58" y="774.56" font-size="8.9" fill="#222" text-anchor="start" font-weight="normal" font-family='"Liberation Sans", sans-serif' textLength="15.2" lengthAdjust="spacingAndGlyphs">44,7</text>
<text x="561.60" y="763.80" font-size="9.3" fill="#333" text-anchor="end" font-weight="normal" font-family='"Liberation Sans", sans-serif' textLength="75.6" lengthAdjust="spacingAndGlyphs">Empleado/Obrero</text>
<rect x="570.00" y="792.25" width="123.42" height="10.07" fill="url(#gBlueH)"/><rect x="691.42" y="792.25" width="2.00" height="10.07" fill="#083a6c" opacity="0.85"/>
<text x="699.02" y="800.82" font-size="8.9" fill="#222" text-anchor="start" font-weight="normal" font-family='"Liberation Sans", sans-serif' textLength="15.2" lengthAdjust="spacingAndGlyphs">36,3</text>
<rect x="570.00" y="802.62" width="123.42" height="10.07" fill="url(#gYelH)"/><rect x="691.42" y="802.62" width="2.00" height="10.07" fill="#7a7400" opacity="0.85"/>
<text x="699.02" y="811.19" font-size="8.9" fill="#222" text-anchor="start" font-weight="normal" font-family='"Liberation Sans", sans-serif' textLength="15.2" lengthAdjust="spacingAndGlyphs">36,3</text>
<rect x="570.00" y="812.99" width="125.12" height="10.07" fill="url(#gGryH)"/><rect x="693.12" y="812.99" width="2.00" height="10.07" fill="#262626" opacity="0.85"/>
<text x="700.72" y="821.56" font-size="8.9" fill="#222" text-anchor="start" font-weight="normal" font-family='"Liberation Sans", sans-serif' textLength="15.2" lengthAdjust="spacingAndGlyphs">36,8</text>
<text x="561.60" y="810.80" font-size="9.3" fill="#333" text-anchor="end" font-weight="normal" font-family='"Liberation Sans", sans-serif' textLength="59.1" lengthAdjust="spacingAndGlyphs">Cuenta Propia</text>
<rect x="570.00" y="839.35" width="41.14" height="10.07" fill="url(#gBlueH)"/><rect x="609.14" y="839.35" width="2.00" height="10.07" fill="#083a6c" opacity="0.85"/>
<text x="616.74" y="847.92" font-size="8.9" fill="#222" text-anchor="start" font-weight="normal" font-family='"Liberation Sans", sans-serif' textLength="15.2" lengthAdjust="spacingAndGlyphs">12,1</text>
<rect x="570.00" y="849.72" width="38.08" height="10.07" fill="url(#gYelH)"/><rect x="606.08" y="849.72" width="2.00" height="10.07" fill="#7a7400" opacity="0.85"/>
<text x="613.68" y="858.29" font-size="8.9" fill="#222" text-anchor="start" font-weight="normal" font-family='"Liberation Sans", sans-serif' textLength="15.2" lengthAdjust="spacingAndGlyphs">11,2</text>
<rect x="570.00" y="860.09" width="41.48" height="10.07" fill="url(#gGryH)"/><rect x="609.48" y="860.09" width="2.00" height="10.07" fill="#262626" opacity="0.85"/>
<text x="617.08" y="868.66" font-size="8.9" fill="#222" text-anchor="start" font-weight="normal" font-family='"Liberation Sans", sans-serif' textLength="15.2" lengthAdjust="spacingAndGlyphs">12,2</text>
<text x="561.60" y="857.90" font-size="9.3" fill="#333" text-anchor="end" font-weight="normal" font-family='"Liberation Sans", sans-serif' textLength="111.1" lengthAdjust="spacingAndGlyphs">Trabajador no remunerado</text>
<rect x="570.00" y="886.55" width="21.42" height="10.07" fill="url(#gBlueH)"/><rect x="589.42" y="886.55" width="2.00" height="10.07" fill="#083a6c" opacity="0.85"/>
<text x="597.02" y="895.12" font-size="8.9" fill="#222" text-anchor="start" font-weight="normal" font-family='"Liberation Sans", sans-serif' textLength="10.9" lengthAdjust="spacingAndGlyphs">6,3</text>
<rect x="570.00" y="896.92" width="22.44" height="10.07" fill="url(#gYelH)"/><rect x="590.44" y="896.92" width="2.00" height="10.07" fill="#7a7400" opacity="0.85"/>
<text x="598.04" y="905.49" font-size="8.9" fill="#222" text-anchor="start" font-weight="normal" font-family='"Liberation Sans", sans-serif' textLength="10.9" lengthAdjust="spacingAndGlyphs">6,6</text>
<rect x="570.00" y="907.29" width="21.08" height="10.07" fill="url(#gGryH)"/><rect x="589.08" y="907.29" width="2.00" height="10.07" fill="#262626" opacity="0.85"/>
<text x="596.68" y="915.86" font-size="8.9" fill="#222" text-anchor="start" font-weight="normal" font-family='"Liberation Sans", sans-serif' textLength="10.9" lengthAdjust="spacingAndGlyphs">6,2</text>
<text x="561.60" y="905.10" font-size="9.3" fill="#333" text-anchor="end" font-weight="normal" font-family='"Liberation Sans", sans-serif' textLength="44.9" lengthAdjust="spacingAndGlyphs">Empleador</text>
<line x1="569.6" y1="738" x2="569.6" y2="926" stroke="#dcdcdc" stroke-width="0.8"/>
<text x="570.00" y="941.40" font-size="9.4" fill="#333" text-anchor="middle" font-weight="normal" font-family='"Liberation Sans", sans-serif' >0</text>
<text x="604.00" y="941.40" font-size="9.4" fill="#333" text-anchor="middle" font-weight="normal" font-family='"Liberation Sans", sans-serif' >10</text>
<text x="638.00" y="941.40" font-size="9.4" fill="#333" text-anchor="middle" font-weight="normal" font-family='"Liberation Sans", sans-serif' >20</text>
<text x="672.00" y="941.40" font-size="9.4" fill="#333" text-anchor="middle" font-weight="normal" font-family='"Liberation Sans", sans-serif' >30</text>
<text x="706.00" y="941.40" font-size="9.4" fill="#333" text-anchor="middle" font-weight="normal" font-family='"Liberation Sans", sans-serif' >40</text>
<text x="740.00" y="941.40" font-size="9.4" fill="#333" text-anchor="middle" font-weight="normal" font-family='"Liberation Sans", sans-serif' >50</text>
<rect x="698.9" y="866.6" width="5.8" height="6.6" fill="url(#gBlueH)"/>
<text x="707.20" y="873.10" font-size="9.4" fill="#333" text-anchor="start" font-weight="normal" font-family='"Liberation Sans", sans-serif' textLength="25.4" lengthAdjust="spacingAndGlyphs">jun-25</text>
<rect x="698.9" y="882.1" width="5.8" height="6.6" fill="url(#gYelH)"/>
<text x="707.20" y="888.60" font-size="9.4" fill="#333" text-anchor="start" font-weight="normal" font-family='"Liberation Sans", sans-serif' textLength="32.8" lengthAdjust="spacingAndGlyphs">may-25</text>
<rect x="698.9" y="897.5" width="5.8" height="6.6" fill="url(#gGryH)"/>
<text x="707.20" y="904.00" font-size="9.4" fill="#333" text-anchor="start" font-weight="normal" font-family='"Liberation Sans", sans-serif' textLength="25.4" lengthAdjust="spacingAndGlyphs">jun-24</text>
<text x="418.80" y="959.00" font-size="8.7" fill="#111" text-anchor="start" font-weight="bold" font-family='"Liberation Sans", sans-serif' textLength="176" lengthAdjust="spacingAndGlyphs">Fuente: Encuesta de Empleo Mensual, INIDE</text>
</g>
<g id="footer">
<g id="logo-somos">
<circle cx="26" cy="979.6" r="5.4" fill="#f8e71c"/>
<path d="M16,981.8 C19,985.5 25,987 30,983.8 C35,980.4 39,974.6 45,974.2 C49,974 52,976.4 52.6,979 L52.6,984.6 C49.6,982.4 46,982.6 42.4,985 C37.6,988.4 33.6,993.6 27.6,995.4 C22.6,996.8 18.4,996.8 16,996 Z" fill="#e5178c"/>
<path d="M32,985.4 C35,988 39,988.4 43,986 C48,983 53.4,978 60.6,977.6 C64.6,977.4 68,978.6 69.4,980.4 L69.4,991 C66.6,988.6 62.6,988.4 58.6,990 C53.4,992 49.6,995.6 44.6,997 C40,998.2 35,998 32,997 Z" fill="#1fa6ec"/>
<path d="M16.6,999.8 C21,1002.4 26.6,1002 31.6,999 C36.6,996 40.4,992.2 45.6,991.8 C49,991.6 52,992.6 53.4,993.8 L53.4,1005 C50.6,1003.2 47,1003.4 43.6,1005 C38.6,1007.4 34.6,1011.6 29,1013.4 C24,1014.8 19,1013.6 16.6,1011.8 Z" fill="#9dcd3d"/>
</g>
<text x="74.40" y="991.60" font-size="12.2" fill="#1b75bc" text-anchor="start" font-weight="bold" font-family='"DejaVu Serif", "Liberation Serif", serif' textLength="38.2" lengthAdjust="spacingAndGlyphs" stroke="#1b75bc" stroke-width="0.35" transform="rotate(-2.6 74.4 991.6)">SOMOS</text>
<text x="56.60" y="1006.60" font-size="16.2" fill="#1b75bc" text-anchor="start" font-weight="bold" font-family='"DejaVu Serif", "Liberation Serif", serif' textLength="58" lengthAdjust="spacingAndGlyphs" stroke="#1b75bc" stroke-width="0.4" transform="rotate(-2.2 56.6 1006.6)">PUEBLO</text>
<text x="35.40" y="1019.40" font-size="12.2" fill="#1b75bc" text-anchor="start" font-weight="bold" font-family='"DejaVu Serif", "Liberation Serif", serif' textLength="74" lengthAdjust="spacingAndGlyphs" stroke="#1b75bc" stroke-width="0.35" transform="rotate(-2.2 35.4 1019.4)">QUE VENCE!</text>
<text x="200.50" y="980.30" font-size="10.2" fill="#e0185e" text-anchor="start" font-weight="bold" font-family='"Liberation Mono", monospace' textLength="239" lengthAdjust="spacingAndGlyphs">CRISTIANA, SOCIALISTA, SOLIDARIA!</text>
<text x="200.50" y="992.60" font-size="8.4" fill="#1c2440" text-anchor="start" font-weight="bold" font-family='"Liberation Mono", monospace' textLength="266" lengthAdjust="spacingAndGlyphs">Instituto Nacional de Información de Desarrollo</text>
<text x="200.50" y="1003.60" font-size="8.4" fill="#6476d4" text-anchor="start" font-weight="normal" font-family='"Liberation Mono", monospace' textLength="135" lengthAdjust="spacingAndGlyphs" text-decoration="underline">https://www.inide.gob.ni</text>
<text x="200.50" y="1014.40" font-size="8.4" fill="#707070" text-anchor="start" font-weight="normal" font-family='"Liberation Mono", monospace' textLength="95" lengthAdjust="spacingAndGlyphs">Managua-Nicaragua</text>
<text x="512.00" y="987.50" font-size="9.3" fill="#de7cd6" text-anchor="start" font-weight="normal" font-family='"Liberation Mono", monospace' textLength="163.0" lengthAdjust="spacingAndGlyphs">TOD@S JUNT@S, VAMOS ADELANTE!</text>
<text x="512.00" y="998.40" font-size="9.3" fill="#6cc896" text-anchor="start" font-weight="normal" font-family='"Liberation Mono", monospace' textLength="129.3" lengthAdjust="spacingAndGlyphs">CON DANIEL... ADELANTE!</text>
<text x="512.00" y="1009.30" font-size="9.3" fill="#78a4d6" text-anchor="start" font-weight="normal" font-family='"Liberation Mono", monospace' textLength="146.1" lengthAdjust="spacingAndGlyphs">CON EL FRENTE... ADELANTE!</text>
<text x="512.00" y="1020.20" font-size="9.3" fill="#967cce" text-anchor="start" font-weight="normal" font-family='"Liberation Mono", monospace' textLength="179.8" lengthAdjust="spacingAndGlyphs">TOD@S JUNT@S, PORQUE HAY PATRIA,</text>
<text x="512.00" y="1031.00" font-size="9.3" fill="#ea5c66" text-anchor="start" font-weight="normal" font-family='"Liberation Mono", monospace' textLength="174.2" lengthAdjust="spacingAndGlyphs">Y TOD@S JUNT@S, PORQUE HAY PAZ!</text>
</g>
</svg>
</body></html>
